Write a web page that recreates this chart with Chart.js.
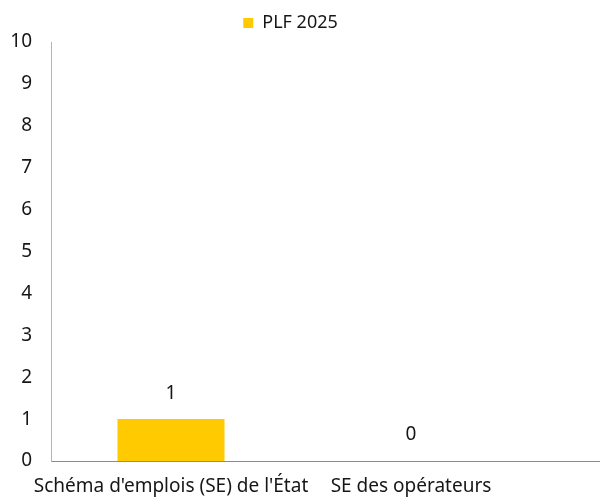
<!DOCTYPE html>
<html><head><meta charset="utf-8">
<script src="https://cdn.jsdelivr.net/npm/chart.js@4/dist/chart.umd.min.js"></script>
<style>html,body{margin:0;padding:0;background:#fff}#wrap{width:600px;height:497px}</style>
</head><body><div id="wrap"><canvas id="c" width="600" height="497"></canvas></div>
<script>
const categories = ["Schéma d'emplois (SE) de l'État", "SE des opérateurs"];
const seriesName = "PLF 2025";
const plf2025 = [1, 0];
const yTicks = [0,1,2,3,4,5,6,7,8,9,10];

const FONT = "'Noto Sans', 'Open Sans', sans-serif";
const TXT = "#161616";

const valueLabels = {
  id: 'valueLabels',
  afterDatasetsDraw(chart) {
    const ctx = chart.ctx;
    const meta = chart.getDatasetMeta(0);
    ctx.save();
    ctx.font = "19px " + FONT;
    ctx.fillStyle = TXT;
    ctx.textAlign = 'center';
    ctx.textBaseline = 'middle';
    meta.data.forEach((el, i) => {
      ctx.fillText(String(plf2025[i]), el.x, el.y - 26);
    });
    ctx.restore();
  }
};
const axisExtend = {
  id: 'axisExtend',
  afterLayout(chart) {
    const lg = chart.legend;
    if (lg) { lg.left += 25; lg.right += 25; }
  },
  afterDraw(chart) {
    const a = chart.chartArea, ctx = chart.ctx;
    ctx.save();
    ctx.strokeStyle = '#8c8c8c';
    ctx.lineWidth = 1;
    ctx.beginPath();
    ctx.moveTo(a.right, Math.round(a.bottom) + 0.5);
    ctx.lineTo(chart.width, Math.round(a.bottom) + 0.5);
    ctx.stroke();
    ctx.restore();
  }
};

new Chart(document.getElementById('c'), {
  type: 'bar',
  data: {
    labels: categories,
    datasets: [{
      label: seriesName,
      data: plf2025,
      backgroundColor: '#FFCA00',
      categoryPercentage: 0.446,
      barPercentage: 1
    }]
  },
  options: {
    responsive: false,
    animation: false,
    layout: { padding: { left: 0, right: 69, top: 6, bottom: 0 } },
    plugins: {
      legend: {
        position: 'top',
        labels: { boxWidth: 10, boxHeight: 10, color: TXT, font: { family: FONT, size: 18 }, padding: 8 }
      },
      tooltip: { enabled: false }
    },
    scales: {
      x: {
        afterFit(s) { s.height = 36; },
        grid: { display: false, drawTicks: false },
        border: { display: true, color: '#8c8c8c' },
        ticks: { color: TXT, font: { family: FONT, size: 19 }, padding: 14, maxRotation: 0, autoSkip: false }
      },
      y: {
        min: 0, max: 10,
        afterFit(s) { s.width = 51; },
        afterBuildTicks(s) { s.ticks = yTicks.map(v => ({ value: v })); },
        grid: { display: false, drawTicks: false },
        border: { display: true, color: '#b4b4b4' },
        ticks: { color: TXT, font: { family: FONT, size: 19 }, padding: 19 }
      }
    }
  },
  plugins: [valueLabels, axisExtend]
});
</script></body></html>
